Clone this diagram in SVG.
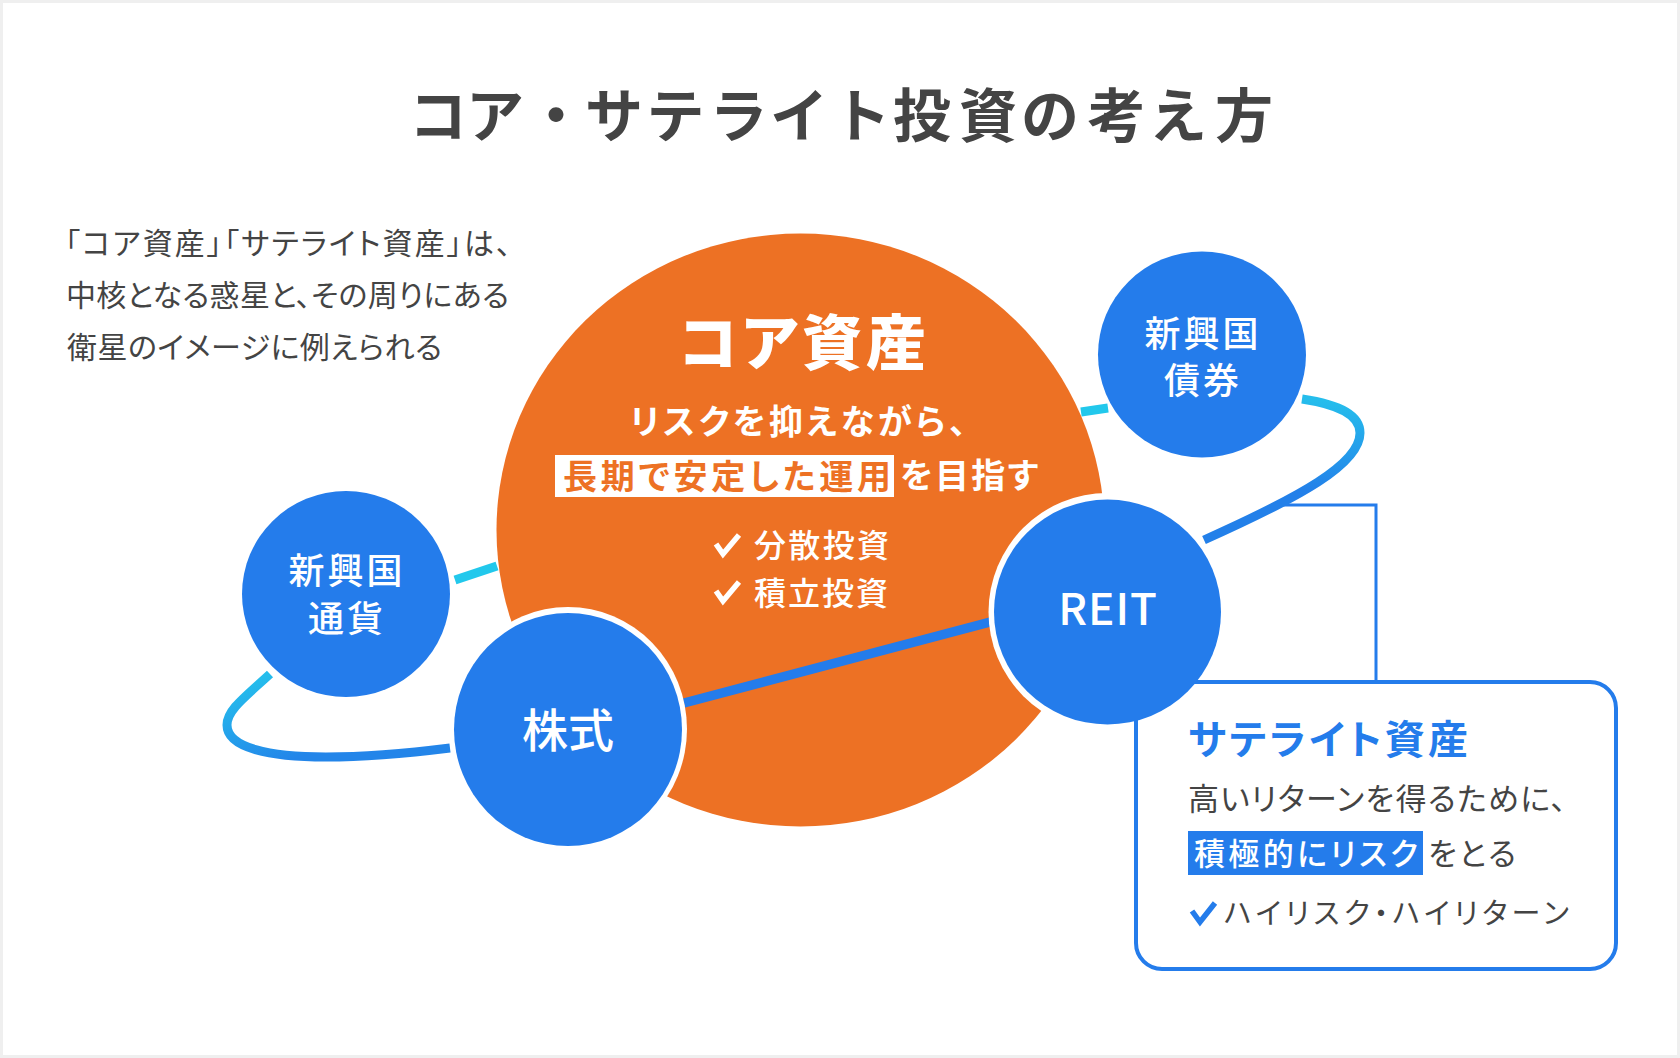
<svg xmlns="http://www.w3.org/2000/svg" width="1680" height="1058" viewBox="0 0 1680 1058">
<style>
text{font-family:"Noto Sans CJK JP","Noto Sans",sans-serif;font-feature-settings:"palt"}
.title{font-size:58px;font-weight:700;fill:#444;font-feature-settings:normal}
.body{font-size:30px;font-weight:400;fill:#444}
.w{fill:#fff}
.node{fill:#247ceb}
.lbl{font-size:36px;font-weight:500;fill:#fff;text-anchor:middle}
.orbit{fill:none;stroke-width:9}
.chk{fill:none;stroke-width:5.500}
</style>
<defs>
<linearGradient id="gr" gradientUnits="userSpaceOnUse" x1="1302" y1="399" x2="1296" y2="490"><stop offset="0" stop-color="#25bdec"/><stop offset="1" stop-color="#2380e9"/></linearGradient>
<linearGradient id="gl" gradientUnits="userSpaceOnUse" x1="270" y1="674" x2="300" y2="757"><stop offset="0" stop-color="#25bdec"/><stop offset="1" stop-color="#2385e9"/></linearGradient>
</defs>
<rect width="1680" height="1058" fill="#efefef"/>
<rect x="3" y="3" width="1674" height="1052" fill="#fff"/>
<text class="title" x="409 466 527 585 646.500 709.500 770 832.500 893 959 1021 1087.500 1149 1215" y="137">コア・サテライト投資の考え方</text>
<g id="intro">
<text class="body" x="65" y="254" textLength="446">「コア資産」「サテライト資産」は、</text>
<text class="body" x="66" y="306" textLength="443">中核となる惑星と、その周りにある</text>
<text class="body" x="67" y="358" textLength="375">衛星のイメージに例えられる</text>
</g>
<g id="connectors">
<path class="orbit" d="M455,580 L497,566" stroke="#22c8ec"/>
<path class="orbit" d="M1081,412 L1108,408" stroke="#22c8ec"/>
<path d="M1279,505 H1376 V682" fill="none" stroke="#247ceb" stroke-width="3"/>
<path class="orbit" stroke="url(#gr)" d="M1302,399 C1342,405 1360,416 1360,433 C1360,464 1300,497 1204,540"/>
<path class="orbit" stroke="url(#gl)" d="M270,674 C245,697 227,710 227,725 C227,748 270,757 326,757 C370,757 410,753 450,748"/>
</g>
<g id="core">
<ellipse cx="800.500" cy="530" rx="304" ry="296.500" fill="#ed7124"/>
<text x="679" y="365" font-size="60" font-weight="900" class="w" textLength="247">コア資産</text>
<text x="630" y="434" font-size="34" font-weight="700" class="w" textLength="336">リスクを抑えながら、</text>
<rect x="555" y="455" width="339" height="42" fill="#fff"/>
<text x="563" y="489" font-size="34" font-weight="700" fill="#ed7124" textLength="328">長期で安定した運用</text>
<text x="900" y="488" font-size="34" font-weight="700" class="w" textLength="138">を目指す</text>
<path class="chk" stroke="#fff" d="M716,544 L723,554 L739,535"/>
<text x="754" y="557" font-size="32" font-weight="500" class="w" textLength="135">分散投資</text>
<path class="chk" stroke="#fff" d="M716,591 L723,601 L739,582"/>
<text x="754" y="605" font-size="32" font-weight="500" class="w" textLength="134">積立投資</text>
</g>
<path d="M684,703 L994,621" fill="none" stroke="#247ceb" stroke-width="9.500"/>
<circle id="reit-ring" cx="1107.500" cy="612" r="119" fill="#fff"/>
<g id="callout">
<rect x="1136" y="682" width="480" height="287" rx="26" fill="#fff" stroke="#247ceb" stroke-width="4"/>
<text x="1188" y="754" font-size="40" font-weight="700" fill="#247ceb" textLength="280">サテライト資産</text>
<text x="1188" y="810" font-size="31" font-weight="400" fill="#444" textLength="378">高いリターンを得るために、</text>
<rect x="1188" y="831" width="235" height="44" fill="#247ceb"/>
<text x="1194" y="865" font-size="31" font-weight="500" class="w" textLength="224">積極的にリスク</text>
<text x="1428" y="865" font-size="31" font-weight="400" fill="#444" textLength="88">をとる</text>
<path class="chk" stroke="#247ceb" d="M1192,911 L1200,922 L1215,903"/>
<text x="1224" y="924" font-size="29" font-weight="400" fill="#444" textLength="345">ハイリスク・ハイリターン</text>
</g>
<g id="node-bond">
<ellipse class="node" cx="1202" cy="354.500" rx="104" ry="103"/>
<text class="lbl" x="1203" y="347" letter-spacing="3">新興国</text>
<text class="lbl" x="1203" y="394" letter-spacing="3">債券</text>
</g>
<g id="node-currency">
<ellipse class="node" cx="346" cy="594" rx="104" ry="103"/>
<text class="lbl" x="347" y="584" letter-spacing="3">新興国</text>
<text class="lbl" x="347" y="632" letter-spacing="3">通貨</text>
</g>
<g id="node-stock">
<ellipse cx="568" cy="729" rx="119" ry="122" fill="#fff"/>
<ellipse class="node" cx="568" cy="729.500" rx="114" ry="116.500"/>
<text class="lbl" x="568" y="747" style="font-size:46px">株式</text>
</g>
<g id="node-reit">
<ellipse class="node" cx="1107.500" cy="612" rx="113.500" ry="112.500"/>
<text class="lbl" x="1108" y="625" style="font-size:44px" letter-spacing="1">REIT</text>
</g>
</svg>
